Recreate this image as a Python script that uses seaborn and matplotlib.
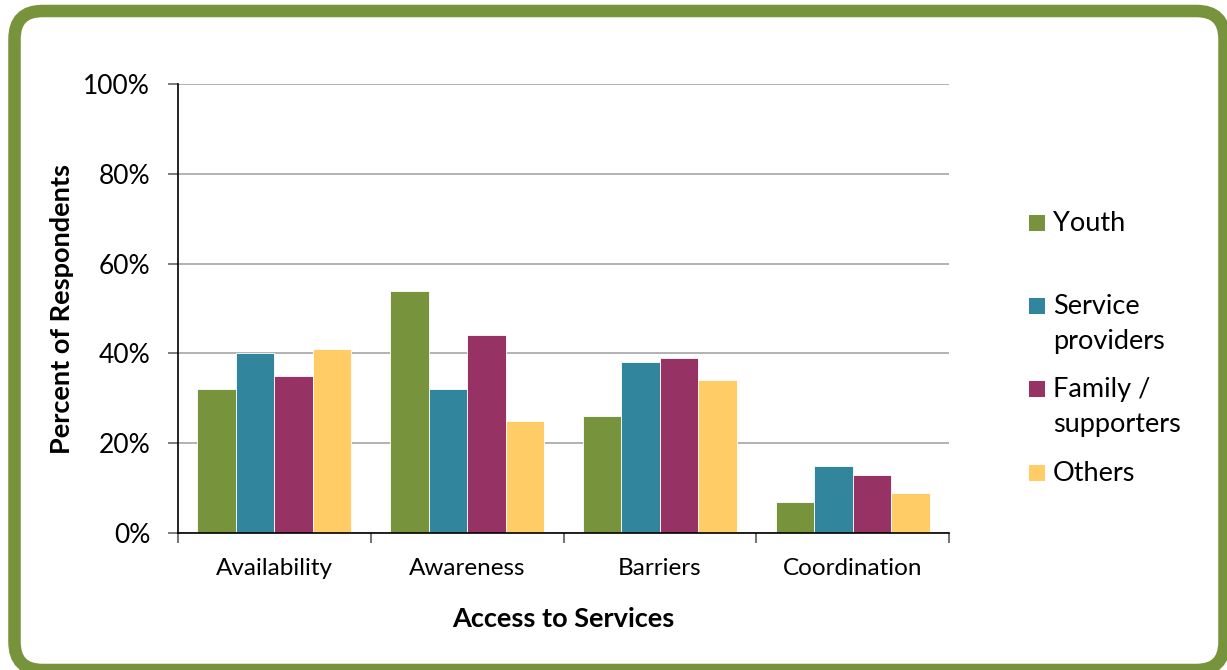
import matplotlib
matplotlib.use("Agg")
import matplotlib.pyplot as plt
import seaborn as sns
import pandas as pd
from matplotlib.patches import FancyBboxPatch, Rectangle
from matplotlib.transforms import IdentityTransform
from matplotlib.ticker import FixedLocator

categories = ["Availability", "Awareness", "Barriers", "Coordination"]
series = ["Youth", "Service providers", "Family / supporters", "Others"]
legend_labels = ["Youth", "Service\nproviders", "Family /\nsupporters", "Others"]
youth = [32, 54, 26, 7]
service_providers = [40, 32, 38, 15]
family_supporters = [35, 44, 39, 13]
others = [41, 25, 34, 9]
y_ticks = [0, 20, 40, 60, 80, 100]
y_tick_labels = ["0%", "20%", "40%", "60%", "80%", "100%"]
colors = ["#77933C", "#31859C", "#963264", "#FFCC66"]

rows = []
for s, vals in zip(series, [youth, service_providers, family_supporters, others]):
    for c, v in zip(categories, vals):
        rows.append({"Category": c, "Group": s, "Value": v})
df = pd.DataFrame(rows)

sns.set_theme(style="white")
plt.rcParams["font.family"] = ["Lato", "DejaVu Sans"]

fig = plt.figure(figsize=(12.27, 6.70), dpi=100)
ax = fig.add_axes([178 / 1227, 1 - 533 / 670, (949 - 178) / 1227, (533 - 84) / 670])

sns.barplot(data=df, x="Category", y="Value", hue="Group", order=categories,
            hue_order=series, palette=colors, width=0.8, ax=ax,
            edgecolor="white", linewidth=0.6, legend=False, saturation=1)

ax.set_ylim(0, 100)
ax.set_xlim(-0.5, 3.5)
ax.set_yticks(y_ticks)
ax.set_yticklabels(y_tick_labels, fontsize=19, color="black")
ax.yaxis.grid(True, color="#A6A6A6", linewidth=1.2)
ax.set_axisbelow(True)
ax.tick_params(axis="y", direction="out", length=7, width=1.2, color="#666666", left=True, pad=13)
ax.tick_params(axis="x", which="major", length=0, pad=18, labelsize=17.5, labelcolor="black")
ax.xaxis.set_minor_locator(FixedLocator([-0.5, 0.5, 1.5, 2.5, 3.5]))
ax.tick_params(axis="x", which="minor", direction="out", length=7, width=1.5, color="#777777", bottom=True)
for side in ["top", "right"]:
    ax.spines[side].set_visible(False)
ax.spines["left"].set_color("black")
ax.spines["bottom"].set_color("black")
ax.spines["left"].set_linewidth(1.2)
ax.spines["bottom"].set_linewidth(1.2)

ax.set_ylabel("Percent of Respondents", fontsize=19.5, fontweight="bold", color="black", labelpad=7)
ax.set_xlabel("Access to Services", fontsize=19.5, fontweight="bold", color="black", labelpad=20)

# legend (manual, squares aligned with first line)
leg_base = [231, 314, 397, 481]
line_step = 35
for lab, col, yb in zip(legend_labels, colors, leg_base):
    fig.add_artist(Rectangle((1029, 670 - yb), 16, 16, transform=IdentityTransform(),
                             facecolor=col, edgecolor="none"))
    for i, line in enumerate(lab.split("\n")):
        fig.text(1053 / 1227, 1 - (yb + i * line_step) / 670, line, fontsize=19.5,
                 va="baseline", ha="left", color="black", transform=fig.transFigure)

# rounded green frame
frame = FancyBboxPatch((14.5, 0), 1224.5 - 14.5, 659,
                       boxstyle="round,pad=0,rounding_size=28",
                       transform=IdentityTransform(), facecolor="none",
                       edgecolor="#77933C", linewidth=12.5 * 72 / 100)
fig.add_artist(frame)

fig.savefig("out.png", dpi=100)
